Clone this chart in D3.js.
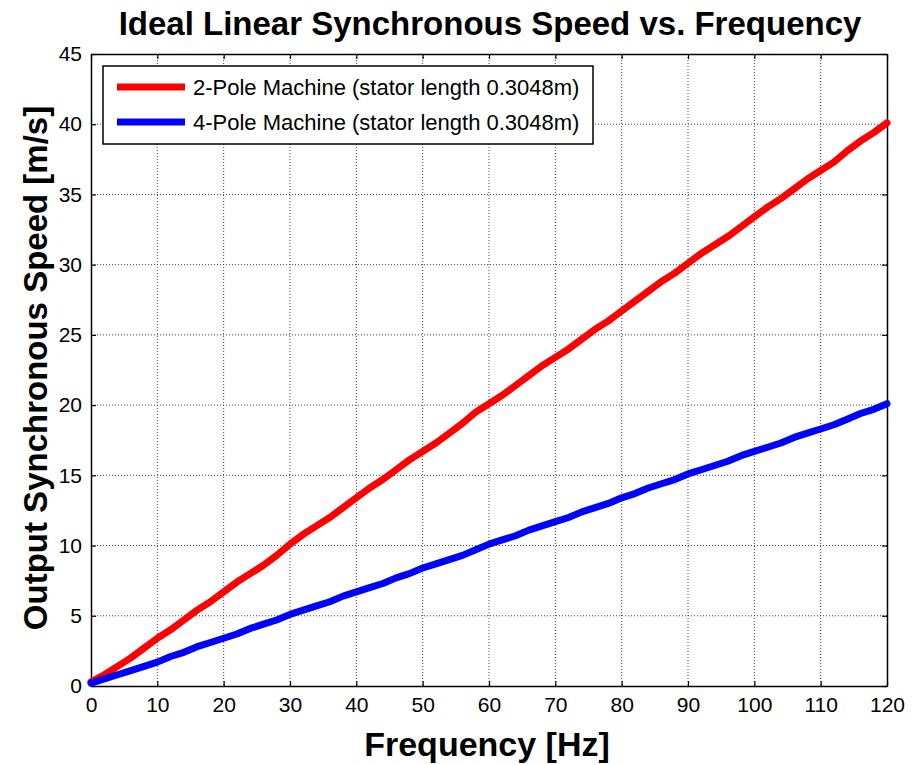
<!DOCTYPE html>
<html><head><meta charset="utf-8">
<script src="https://cdn.jsdelivr.net/npm/d3@7"></script>
<style>body{margin:0;background:#fff}svg{display:block}text{font-family:Arial,"Liberation Sans",sans-serif}</style>
</head><body>
<script>
const freq = [0,2,4,6,8,10,12,14,16,18,20,22,24,26,28,30,32,34,36,38,40,42,44,46,48,50,52,54,56,58,60,62,64,66,68,70,72,74,76,78,80,82,84,86,88,90,92,94,96,98,100,102,104,106,108,110,112,114,116,118,120];
const speed2Pole = [0.3,0.8,1.4,2.0,2.7,3.4,4.0,4.7,5.4,6.0,6.7,7.4,8.0,8.6,9.3,10.1,10.8,11.4,12.0,12.7,13.4,14.1,14.7,15.4,16.1,16.7,17.3,18.0,18.7,19.5,20.1,20.7,21.4,22.1,22.8,23.4,24.0,24.7,25.4,26.0,26.7,27.4,28.1,28.8,29.4,30.1,30.8,31.4,32.0,32.7,33.4,34.1,34.7,35.4,36.1,36.7,37.3,38.1,38.8,39.4,40.1];
const speed4Pole = [0.2,0.5,0.8,1.1,1.4,1.7,2.1,2.4,2.8,3.1,3.4,3.7,4.1,4.4,4.7,5.1,5.4,5.7,6.0,6.4,6.7,7.0,7.3,7.7,8.0,8.4,8.7,9.0,9.3,9.7,10.1,10.4,10.7,11.1,11.4,11.7,12.0,12.4,12.7,13.0,13.4,13.7,14.1,14.4,14.7,15.1,15.4,15.7,16.0,16.4,16.7,17.0,17.3,17.7,18.0,18.3,18.6,19.0,19.4,19.7,20.1];
const xTicks = [0,10,20,30,40,50,60,70,80,90,100,110,120];
const yTicks = [0,5,10,15,20,25,30,35,40,45];
const seriesNames = ["2-Pole Machine (stator length 0.3048m)","4-Pole Machine (stator length 0.3048m)"];
const seriesColors = ["#ff0000","#0000ff"];

const W=912,H=765, L=91,R=887,T=54,B=686;
const svg=d3.select("body").append("svg").attr("width",W).attr("height",H);
const x=d3.scaleLinear().domain([0,120]).range([L,R]);
const y=d3.scaleLinear().domain([0,45]).range([B,T]);

// grid
const g=svg.append("g");
g.selectAll(".gx").data(xTicks.slice(1,-1)).enter().append("line")
 .attr("x1",d=>x(d)).attr("x2",d=>x(d)).attr("y1",T).attr("y2",B)
 .attr("stroke","#444").attr("stroke-width",1).attr("stroke-dasharray","1,2");
g.selectAll(".gy").data(yTicks.slice(1,-1)).enter().append("line")
 .attr("y1",d=>y(d)).attr("y2",d=>y(d)).attr("x1",L).attr("x2",R)
 .attr("stroke","#444").attr("stroke-width",1).attr("stroke-dasharray","1,2");

// axes
const fmt=d3.format("d");
const ax=svg.append("g").attr("transform",`translate(0,${B})`).call(d3.axisBottom(x).tickValues(xTicks).tickFormat(fmt).tickSizeInner(-5).tickSizeOuter(0).tickPadding(11));
const ay=svg.append("g").attr("transform",`translate(${L},0)`).call(d3.axisLeft(y).tickValues(yTicks).tickFormat(fmt).tickSizeInner(-5).tickSizeOuter(0).tickPadding(9));
const at=svg.append("g").attr("transform",`translate(0,${T})`).call(d3.axisTop(x).tickValues(xTicks).tickFormat("").tickSizeInner(-5).tickSizeOuter(0));
const ar=svg.append("g").attr("transform",`translate(${R},0)`).call(d3.axisRight(y).tickValues(yTicks).tickFormat("").tickSizeInner(-5).tickSizeOuter(0));
[ax,ay,at,ar].forEach(a=>{a.select(".domain").attr("stroke","#000").attr("stroke-width",1.5);a.selectAll(".tick line").attr("stroke","#000").attr("stroke-width",1.2);a.selectAll("text").attr("font-size",21).attr("fill","#000").attr("font-family","Arial, Liberation Sans, sans-serif");});

// lines
const line=d3.line().x((d,i)=>x(freq[i])).y(d=>y(d));
[speed2Pole,speed4Pole].forEach((s,k)=>{
 svg.append("path").datum(s).attr("d",line).attr("fill","none").attr("stroke",seriesColors[k]).attr("stroke-width",7).attr("stroke-linejoin","round").attr("stroke-linecap","round");
});

// legend
const lg=svg.append("g");
lg.append("rect").attr("x",103).attr("y",66).attr("width",490).attr("height",78).attr("fill","#fff").attr("stroke","#000").attr("stroke-width",1.5);
seriesNames.forEach((n,k)=>{
 const yy=87+k*35;
 lg.append("line").attr("x1",117).attr("x2",185).attr("y1",yy).attr("y2",yy).attr("stroke",seriesColors[k]).attr("stroke-width",7);
 lg.append("text").attr("x",193).attr("y",yy+8).attr("font-size",22).text(n);
});

// titles
svg.append("text").attr("x",490).attr("y",35).attr("text-anchor","middle").attr("font-size",33).attr("font-weight","bold").text("Ideal Linear Synchronous Speed vs. Frequency");
svg.append("text").attr("x",487).attr("y",756).attr("text-anchor","middle").attr("font-size",34).attr("font-weight","bold").text("Frequency [Hz]");
svg.append("text").attr("transform","translate(47,368) rotate(-90)").attr("text-anchor","middle").attr("font-size",33).attr("font-weight","bold").text("Output Synchronous Speed [m/s]");
</script>
</body></html>
